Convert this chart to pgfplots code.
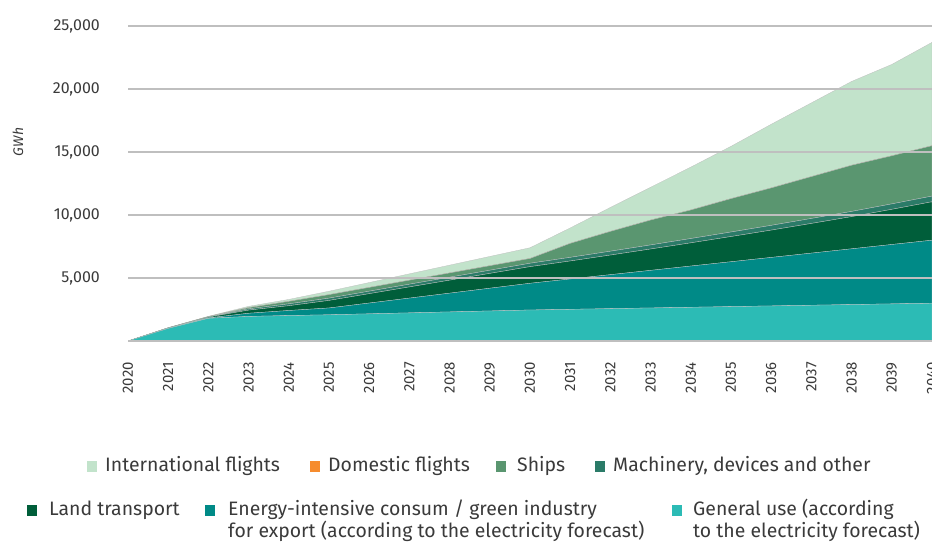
\documentclass[border=0pt]{standalone}
\usepackage{fontspec}
\setmainfont{Fira Sans}
\usepackage{pgfplots}
\usepackage{pgfplotstable}
\pgfplotsset{compat=1.18}

\definecolor{cintl}{HTML}{C2E3CB}
\definecolor{cdom}{HTML}{F68C2E}
\definecolor{cship}{HTML}{5A9670}
\definecolor{cmach}{HTML}{2B7B68}
\definecolor{cland}{HTML}{005E3A}
\definecolor{cener}{HTML}{008A87}
\definecolor{cgen}{HTML}{2CBBB5}
\definecolor{ctext}{HTML}{3A3A3A}

% GWh per year and category
\pgfplotstableread{
year gen  ener land mach ship dom intl
2020 0    0    0    0    0    0   0
2021 1000 20   20   5    5    0   10
2022 1800 30   70   20   20   0   20
2023 1950 250  250  100  100  0   100
2024 2020 400  380  150  200  0   150
2025 2080 540  600  180  280  0   270
2026 2156 856  744  198  300  0   386
2027 2232 1172 888  216  320  0   502
2028 2308 1488 1032 234  340  0   618
2029 2384 1804 1176 252  360  0   734
2030 2460 2120 1320 270  380  0   850
2031 2514 2408 1428 288  1112 0   1220
2032 2568 2696 1556 306  1574 0   1900
2033 2622 2984 1694 324  1976 0   2600
2034 2676 3272 1842 342  2268 0   3400
2035 2730 3560 2000 360  2650 0   4150
2036 2784 3848 2168 378  2972 0   5050
2037 2838 4136 2356 396  3324 0   5850
2038 2892 4424 2554 414  3666 0   6650
2039 2946 4712 2792 432  3818 0   7250
2040 3000 5000 3050 450  4000 0   8200
}\datatable

\begin{document}
\begin{tikzpicture}
\begin{axis}[
    name=ax,
    scale only axis,
    width=804bp, height=315bp,
    xmin=2020, xmax=2040, ymin=0, ymax=25000,
    stack plots=y,
    area style,
    axis line style={draw=none},
    ymajorgrids,
    major grid style={draw=black!25, line width=1.2bp},
    extra y ticks={0}, extra y tick labels={},
    major tick length=0pt,
    scaled y ticks=false,
    ytick={5000,10000,15000,20000,25000},
    xtick={2020,2021,...,2040},
    tick label style={font=\fontsize{15}{18}\selectfont, text=ctext, inner sep=0pt},
    /pgf/number format/assume math mode=true,
    y tick label style={font=\fontsize{16}{18}\selectfont, /pgf/number format/.cd, fixed, 1000 sep={,}},
    x tick label style={rotate=90, anchor=east, /pgf/number format/1000 sep={}},
    xticklabel shift=21bp,
    yticklabel shift=28bp,
    every axis plot/.append style={draw=white!75!black, line width=0.3bp},
]
\addplot[fill=cgen] table[x=year, y=gen] {\datatable} \closedcycle;
\addplot[fill=cener] table[x=year, y=ener] {\datatable} \closedcycle;
\addplot[fill=cland] table[x=year, y=land] {\datatable} \closedcycle;
\addplot[fill=cmach] table[x=year, y=mach] {\datatable} \closedcycle;
\addplot[fill=cship] table[x=year, y=ship] {\datatable} \closedcycle;
\addplot[fill=cdom] table[x=year, y=dom] {\datatable} \closedcycle;
\addplot[fill=cintl] table[x=year, y=intl] {\datatable} \closedcycle;
\end{axis}

% pixel frame: origin at top left of the picture
\begin{scope}[shift={(ax.south west)}, shift={(-128bp,341bp)}, x=1bp, y=-1bp]
  \node[rotate=90, text=ctext, font=\fontsize{14}{16}\selectfont\itshape] at (18,142) {GWh};
  \begin{scope}[every node/.style={anchor=base west, text=ctext, inner sep=0pt,
      font=\fontsize{19.5}{23}\selectfont}]
    % row 1
    \fill[cintl] (87,461) rectangle (97,472);
    \node at (105,472) {International flights};
    \fill[cdom] (310,461) rectangle (320,472);
    \node at (328,472) {Domestic flights};
    \fill[cship] (496,461) rectangle (506,472);
    \node at (517,472) {Ships};
    \fill[cmach] (595,461) rectangle (605,472);
    \node at (613,472) {Machinery, devices and other};
    % row 2
    \fill[cland] (27,505) rectangle (37,516);
    \node at (49,516) {Land transport};
    \fill[cener] (205,505) rectangle (215,516);
    \node at (228,516) {Energy-intensive consum / green industry};
    \node at (228,538) {for export (according to the electricity forecast)};
    \fill[cgen] (672,505) rectangle (682,516);
    \node at (693,516) {General use (according};
    \node at (693,538) {to the electricity forecast)};
  \end{scope}
  \pgfresetboundingbox
  \path (0,0) rectangle (932,543);
\end{scope}
\end{tikzpicture}
\end{document}
